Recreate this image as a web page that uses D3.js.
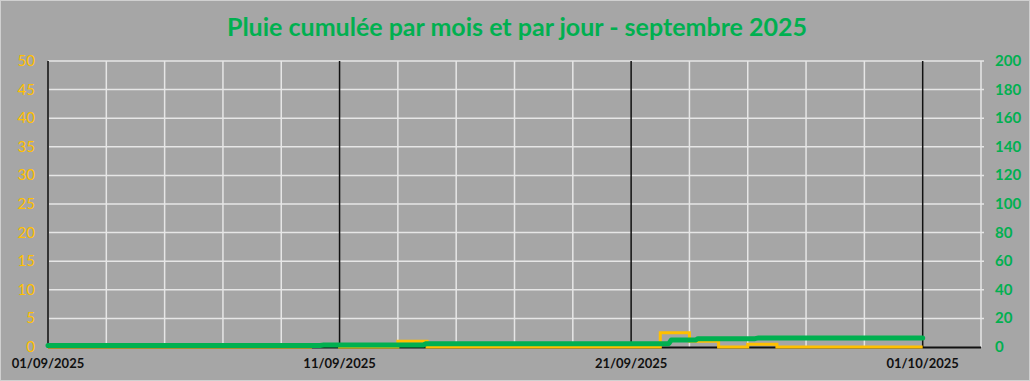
<!DOCTYPE html>
<html>
<head>
<meta charset="utf-8">
<script src="https://cdn.jsdelivr.net/npm/d3@7"></script>
<style>
  body { margin: 0; background: #a6a6a6; }
  svg { display: block; }
</style>
</head>
<body>
<svg id="chart" width="1030" height="381"></svg>
<script>
// daily rain (mm), one value per day of september, step drawn per day
const days = d3.range(1, 31).map(d => `2025-09-${String(d).padStart(2, '0')}`);
const dailyRain = [0, 0, 0, 0, 0, 0, 0, 0, 0, 0.3,
                   0, 0, 1.0, 0, 0, 0, 0, 0, 0, 0,
                   0, 2.5, 1.0, 0, 0.5, 0, 0, 0, 0, 0];

// monthly cumulative rain (mm), measured over time
const cumulTimes = ['2025-09-01T00:00', '2025-09-10T08:00', '2025-09-10T11:00',
                    '2025-09-13T20:40', '2025-09-13T23:30', '2025-09-22T07:00',
                    '2025-09-22T09:00', '2025-09-23T05:00', '2025-09-23T07:00',
                    '2025-09-25T06:00', '2025-09-25T09:00', '2025-10-01T00:00'];
const cumulRain = [0, 0, 0.3, 0.3, 1.3, 1.3, 3.8, 3.8, 4.8, 4.8, 5.3, 5.3];

const xLabels = ['2025-09-01', '2025-09-11', '2025-09-21', '2025-10-01'];
const leftTicks = d3.range(0, 55, 5);
const rightTicks = d3.range(0, 220, 20);

const title = 'Pluie cumulée par mois et par jour - septembre 2025';

const W = 1030, H = 381;
const margin = { top: 61, right: 49, bottom: 34, left: 48 };
const yellow = '#ffc000', green = '#00b050';

const parse = d3.timeParse('%Y-%m-%dT%H:%M');
const parseDay = d3.timeParse('%Y-%m-%d');
const fmt = d3.timeFormat('%d/%m/%Y');

const svg = d3.select('#chart');

svg.append('rect')
  .attr('x', 0.5).attr('y', 0.5)
  .attr('width', W - 1).attr('height', H - 1)
  .attr('fill', '#a6a6a6')
  .attr('stroke', '#d0d0d0');

const x = d3.scaleTime()
  .domain([parseDay('2025-09-01'), parseDay('2025-10-03')])
  .range([margin.left, W - margin.right]);
const yL = d3.scaleLinear().domain([0, 50]).range([H - margin.bottom, margin.top]);
const yR = d3.scaleLinear().domain([0, 200]).range([H - margin.bottom, margin.top]);

// title
svg.append('text')
  .attr('x', W / 2 + 2).attr('y', 36)
  .attr('text-anchor', 'middle')
  .attr('font-family', 'Lato, "Open Sans", sans-serif')
  .attr('font-weight', 'bold')
  .attr('font-size', 25)
  .attr('fill', green)
  .text(title);

// horizontal grid
svg.append('g')
  .selectAll('line')
  .data(leftTicks.filter(t => t > 0))
  .join('line')
  .attr('x1', x.range()[0]).attr('x2', x.range()[1] + 3)
  .attr('y1', d => yL(d)).attr('y2', d => yL(d))
  .attr('stroke', '#e6e6e6').attr('stroke-width', 1.5);

// vertical grid every 2 days
const gridDays = d3.timeDay.every(2).range(parseDay('2025-09-03'), parseDay('2025-10-04'));
const labelSet = new Set(xLabels);
const dayKey = d3.timeFormat('%Y-%m-%d');
svg.append('g')
  .selectAll('line')
  .data(gridDays.filter(d => !labelSet.has(dayKey(d))))
  .join('line')
  .attr('x1', d => x(d)).attr('x2', d => x(d))
  .attr('y1', yL(50)).attr('y2', yL(0))
  .attr('stroke', '#e6e6e6').attr('stroke-width', 1.5);

// black lines at labelled dates
svg.append('g')
  .selectAll('line')
  .data(xLabels.slice(1).map(parseDay))
  .join('line')
  .attr('x1', d => x(d)).attr('x2', d => x(d))
  .attr('y1', yL(50)).attr('y2', yL(0))
  .attr('stroke', '#111').attr('stroke-width', 1.5);

// axes lines
svg.append('line')
  .attr('x1', x.range()[0]).attr('x2', x.range()[0])
  .attr('y1', yL(50)).attr('y2', yL(0) + 1)
  .attr('stroke', '#333').attr('stroke-width', 2);
svg.append('line')
  .attr('x1', x.range()[0]).attr('x2', x.range()[1])
  .attr('y1', yL(0) + 0.5).attr('y2', yL(0) + 0.5)
  .attr('stroke', '#111').attr('stroke-width', 2);

// left axis labels
svg.append('g')
  .selectAll('text')
  .data(leftTicks)
  .join('text')
  .attr('x', 35).attr('y', d => yL(d) + 5)
  .attr('text-anchor', 'end')
  .attr('font-family', 'Lato, sans-serif')
  .attr('font-size', 15)
  .attr('fill', yellow)
  .text(d => d);

// right axis labels
svg.append('g')
  .selectAll('text')
  .data(rightTicks)
  .join('text')
  .attr('x', 995).attr('y', d => yR(d) + 5)
  .attr('text-anchor', 'start')
  .attr('font-family', 'Lato, sans-serif')
  .attr('font-weight', 'bold')
  .attr('font-size', 15)
  .attr('fill', green)
  .text(d => d);

// x labels
svg.append('g')
  .selectAll('text')
  .data(xLabels.map(parseDay))
  .join('text')
  .attr('x', d => x(d)).attr('y', 368)
  .attr('text-anchor', 'middle')
  .attr('font-family', 'Lato, sans-serif')
  .attr('font-weight', 'bold')
  .attr('font-size', 13)
  .attr('fill', '#111')
  .text(d => fmt(d));

// daily rain step line
const daily = days.map((d, i) => ({ date: parseDay(d), v: dailyRain[i] }));
daily.push({ date: parseDay('2025-10-01'), v: 0 });
const stepLine = d3.line()
  .x(d => x(d.date))
  .y(d => yL(d.v))
  .curve(d3.curveStepAfter);
svg.append('path')
  .attr('d', stepLine(daily))
  .attr('fill', 'none')
  .attr('stroke', yellow)
  .attr('stroke-width', 3);

// cumulative line
const cumul = cumulTimes.map((t, i) => ({ date: parse(t), v: cumulRain[i] }));
const cumulLine = d3.line()
  .x(d => x(d.date))
  .y(d => yR(d.v) - 1.5);
svg.append('path')
  .attr('d', cumulLine(cumul))
  .attr('fill', 'none')
  .attr('stroke', green)
  .attr('stroke-width', 5)
  .attr('stroke-linecap', 'round')
  .attr('stroke-linejoin', 'round');
</script>
</body>
</html>
